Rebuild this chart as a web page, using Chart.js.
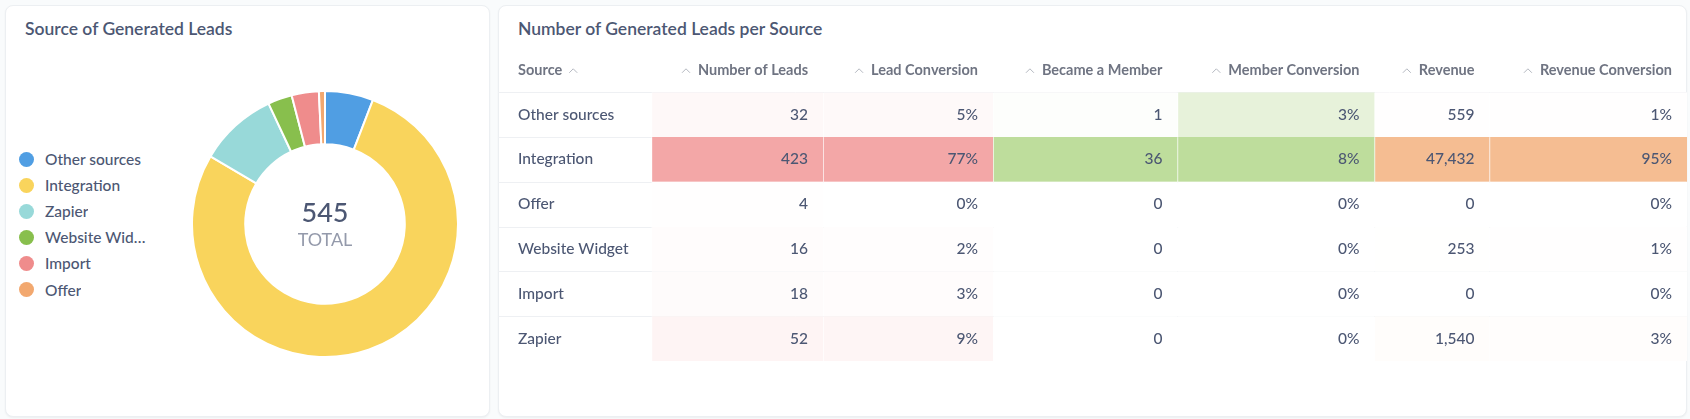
<!DOCTYPE html>
<html>
<head>
<meta charset="utf-8">
<script src="https://cdn.jsdelivr.net/npm/chart.js@4/dist/chart.umd.min.js"></script>
<style>
  body {
    margin: 0;
    width: 1690px;
    height: 419px;
    overflow: hidden;
    background: #f9fbfc;
    font-family: Lato, "Noto Sans", sans-serif;
    color: #4c5773;
    position: relative;
  }
  .card {
    position: absolute;
    top: 5px;
    height: 410px;
    background: #fff;
    border: 1px solid #eceff2;
    border-radius: 8px;
    box-shadow: 0 1px 2px rgba(0, 0, 0, 0.05);
  }
  .title {
    position: absolute;
    top: 12px;
    left: 19px;
    font-size: 17.5px;
    font-weight: 600;
    line-height: 22px;
    color: #4c5773;
    white-space: nowrap;
  }
  #legend {
    position: absolute;
    left: 13px;
    top: 140px;
  }
  .item {
    display: flex;
    align-items: center;
    height: 26.1px;
    font-size: 15.5px;
    font-weight: 500;
  }
  .dot {
    width: 15px;
    height: 15px;
    border-radius: 50%;
    margin-right: 11px;
    flex: none;
  }
  .name {
    max-width: 102px;
    overflow: hidden;
    text-overflow: ellipsis;
    white-space: nowrap;
  }
  .box { position: absolute; }
</style>
</head>
<body>

<div class="card" style="left:5px; width:483px;">
  <div class="title">Source of Generated Leads</div>
  <div id="legend"></div>
</div>
<div class="card" style="left:498px; width:1187px;">
  <div class="title" style="left:19px;">Number of Generated Leads per Source</div>
</div>

<div class="box" style="left:190.5px; top:90px; width:268px; height:268px;">
  <canvas id="donut"></canvas>
</div>
<div class="box" style="left:498px; top:48px; width:1189px; height:313px;">
  <canvas id="table"></canvas>
</div>

<script>
// table rows
const sources = ['Other sources', 'Integration', 'Offer', 'Website Widget', 'Import', 'Zapier'];
const leads = [32, 423, 4, 16, 18, 52];
const leadConversion = [5, 77, 0, 2, 3, 9];
const members = [1, 36, 0, 0, 0, 0];
const memberConversion = [3, 8, 0, 0, 0, 0];
const revenue = [559, 47432, 0, 253, 0, 1540];
const revenueConversion = [1, 95, 0, 1, 0, 3];

const headers = ['Source', 'Number of Leads', 'Lead Conversion', 'Became a Member', 'Member Conversion', 'Revenue', 'Revenue Conversion'];

// donut order
const donutLabels = ['Other sources', 'Integration', 'Zapier', 'Website Widget', 'Import', 'Offer'];
const donutColors = ['#509ee3', '#f9d45c', '#98d9d9', '#88bf4d', '#ef8c8c', '#f2a86f'];
const donutValues = donutLabels.map(s => leads[sources.indexOf(s)]);

const textColor = '#4c5773';
const font = 'Lato, "Noto Sans", sans-serif';

// legend
const legendEl = document.getElementById('legend');
donutLabels.forEach((lab, i) => {
    const row = document.createElement('div');
    row.className = 'item';
    row.innerHTML = '<span class="dot" style="background:' + donutColors[i] + '"></span><span class="name">' + lab + '</span>';
    legendEl.appendChild(row);
});

const centerTotal = {
    id: 'centerTotal',
    afterDraw(chart) {
        const ctx = chart.ctx;
        const arc = chart.getDatasetMeta(0).data[0];
        const total = donutValues.reduce((a, b) => a + b, 0);
        ctx.save();
        ctx.textAlign = 'center';
        ctx.textBaseline = 'middle';
        ctx.fillStyle = textColor;
        ctx.font = '500 27px ' + font;
        ctx.fillText(String(total), arc.x, arc.y - 11);
        ctx.fillStyle = '#949aab';
        ctx.font = '18px ' + font;
        ctx.fillText('TOTAL', arc.x, arc.y + 16);
        ctx.restore();
    }
};

new Chart(document.getElementById('donut'), {
    type: 'doughnut',
    data: {
        labels: donutLabels,
        datasets: [{
            data: donutValues,
            backgroundColor: donutColors,
            borderColor: '#ffffff',
            borderWidth: 2
        }]
    },
    options: {
        responsive: true,
        maintainAspectRatio: false,
        animation: false,
        cutout: '60%',
        plugins: { legend: { display: false }, tooltip: { enabled: false } }
    },
    plugins: [centerTotal]
});

// table drawn as floating bars, one dataset per value column
const columns = [
    { values: leads, full: [243, 167, 167], fmt: v => String(v) },
    { values: leadConversion, full: [243, 167, 167], fmt: v => v + '%' },
    { values: members, full: [190, 221, 156], fmt: v => String(v) },
    { values: memberConversion, full: [190, 221, 156], fmt: v => v + '%' },
    { values: revenue, full: [245, 189, 146], fmt: v => v.toLocaleString('en-US') },
    { values: revenueConversion, full: [245, 189, 146], fmt: v => v + '%' }
];
// column edges in px along the table width
const colEdges = [0, 153.5, 325, 495, 679.5, 876.5, 991.5, 1189];

function heat(full, v, max) {
    const t = max > 0 ? v / max : 0;
    const c = full.map(f => Math.round(255 + (f - 255) * t));
    return 'rgb(' + c.join(',') + ')';
}

const datasets = columns.map((col, j) => {
    const max = Math.max(...col.values);
    return {
        data: col.values.map(() => [colEdges[j + 1], colEdges[j + 2]]),
        backgroundColor: col.values.map(v => heat(col.full, v, max)),
        borderColor: 'rgba(255,255,255,0.6)',
        borderWidth: { left: 1, right: 0, top: 0, bottom: 0 },
        borderSkipped: false,
        grouped: false,
        barPercentage: 1,
        categoryPercentage: 1
    };
});

function caret(ctx, x, y) {
    ctx.save();
    ctx.strokeStyle = '#b4b8c0';
    ctx.lineWidth = 1;
    ctx.beginPath();
    ctx.moveTo(x, y + 2.5);
    ctx.lineTo(x + 4, y - 1.5);
    ctx.lineTo(x + 8, y + 2.5);
    ctx.stroke();
    ctx.restore();
}

const tableText = {
    id: 'tableText',
    beforeDatasetsDraw(chart) {
        const ctx = chart.ctx;
        const area = chart.chartArea;
        const band = (area.bottom - area.top) / sources.length;
        ctx.save();
        ctx.strokeStyle = '#eef0f3';
        ctx.lineWidth = 1;
        for (let i = 0; i <= sources.length; i++) {
            const py = Math.round(area.top + i * band) + 0.5;
            ctx.beginPath();
            ctx.moveTo(area.left, py);
            ctx.lineTo(area.right, py);
            ctx.stroke();
        }
        ctx.restore();
    },
    afterDatasetsDraw(chart) {
        const ctx = chart.ctx;
        const area = chart.chartArea;
        const x = chart.scales.x;
        const y = chart.scales.y;
        ctx.save();
        ctx.textBaseline = 'middle';
        // header
        const hy = area.top - 22;
        ctx.font = '700 14.5px ' + font;
        ctx.fillStyle = '#6f7482';
        ctx.textAlign = 'left';
        const sx = x.getPixelForValue(colEdges[0]) + 20;
        ctx.fillText(headers[0], sx, hy);
        caret(ctx, sx + ctx.measureText(headers[0]).width + 7, hy);
        ctx.textAlign = 'right';
        for (let j = 1; j < headers.length; j++) {
            const rx = x.getPixelForValue(colEdges[j + 1]) - 15;
            ctx.fillText(headers[j], rx, hy);
            const w = ctx.measureText(headers[j]).width;
            caret(ctx, rx - w - 16, hy);
        }
        // body
        ctx.font = '500 15.5px ' + font;
        ctx.fillStyle = textColor;
        sources.forEach((s, i) => {
            ctx.textAlign = 'left';
            ctx.fillText(s, sx, y.getPixelForValue(i));
        });
        ctx.textAlign = 'right';
        columns.forEach((col, j) => {
            chart.getDatasetMeta(j).data.forEach((bar, i) => {
                const right = Math.max(bar.x, bar.base);
                ctx.fillText(col.fmt(col.values[i]), right - 15, bar.y);
            });
        });
        ctx.restore();
    }
};

new Chart(document.getElementById('table'), {
    type: 'bar',
    data: { labels: sources, datasets: datasets },
    options: {
        indexAxis: 'y',
        responsive: true,
        maintainAspectRatio: false,
        animation: false,
        layout: { padding: { top: 44.3, left: 0, right: 0, bottom: 0 } },
        scales: {
            x: { type: 'linear', min: 0, max: colEdges[colEdges.length - 1], display: false },
            y: { type: 'category', display: false }
        },
        plugins: { legend: { display: false }, tooltip: { enabled: false } }
    },
    plugins: [tableText]
});
</script>
</body>
</html>
